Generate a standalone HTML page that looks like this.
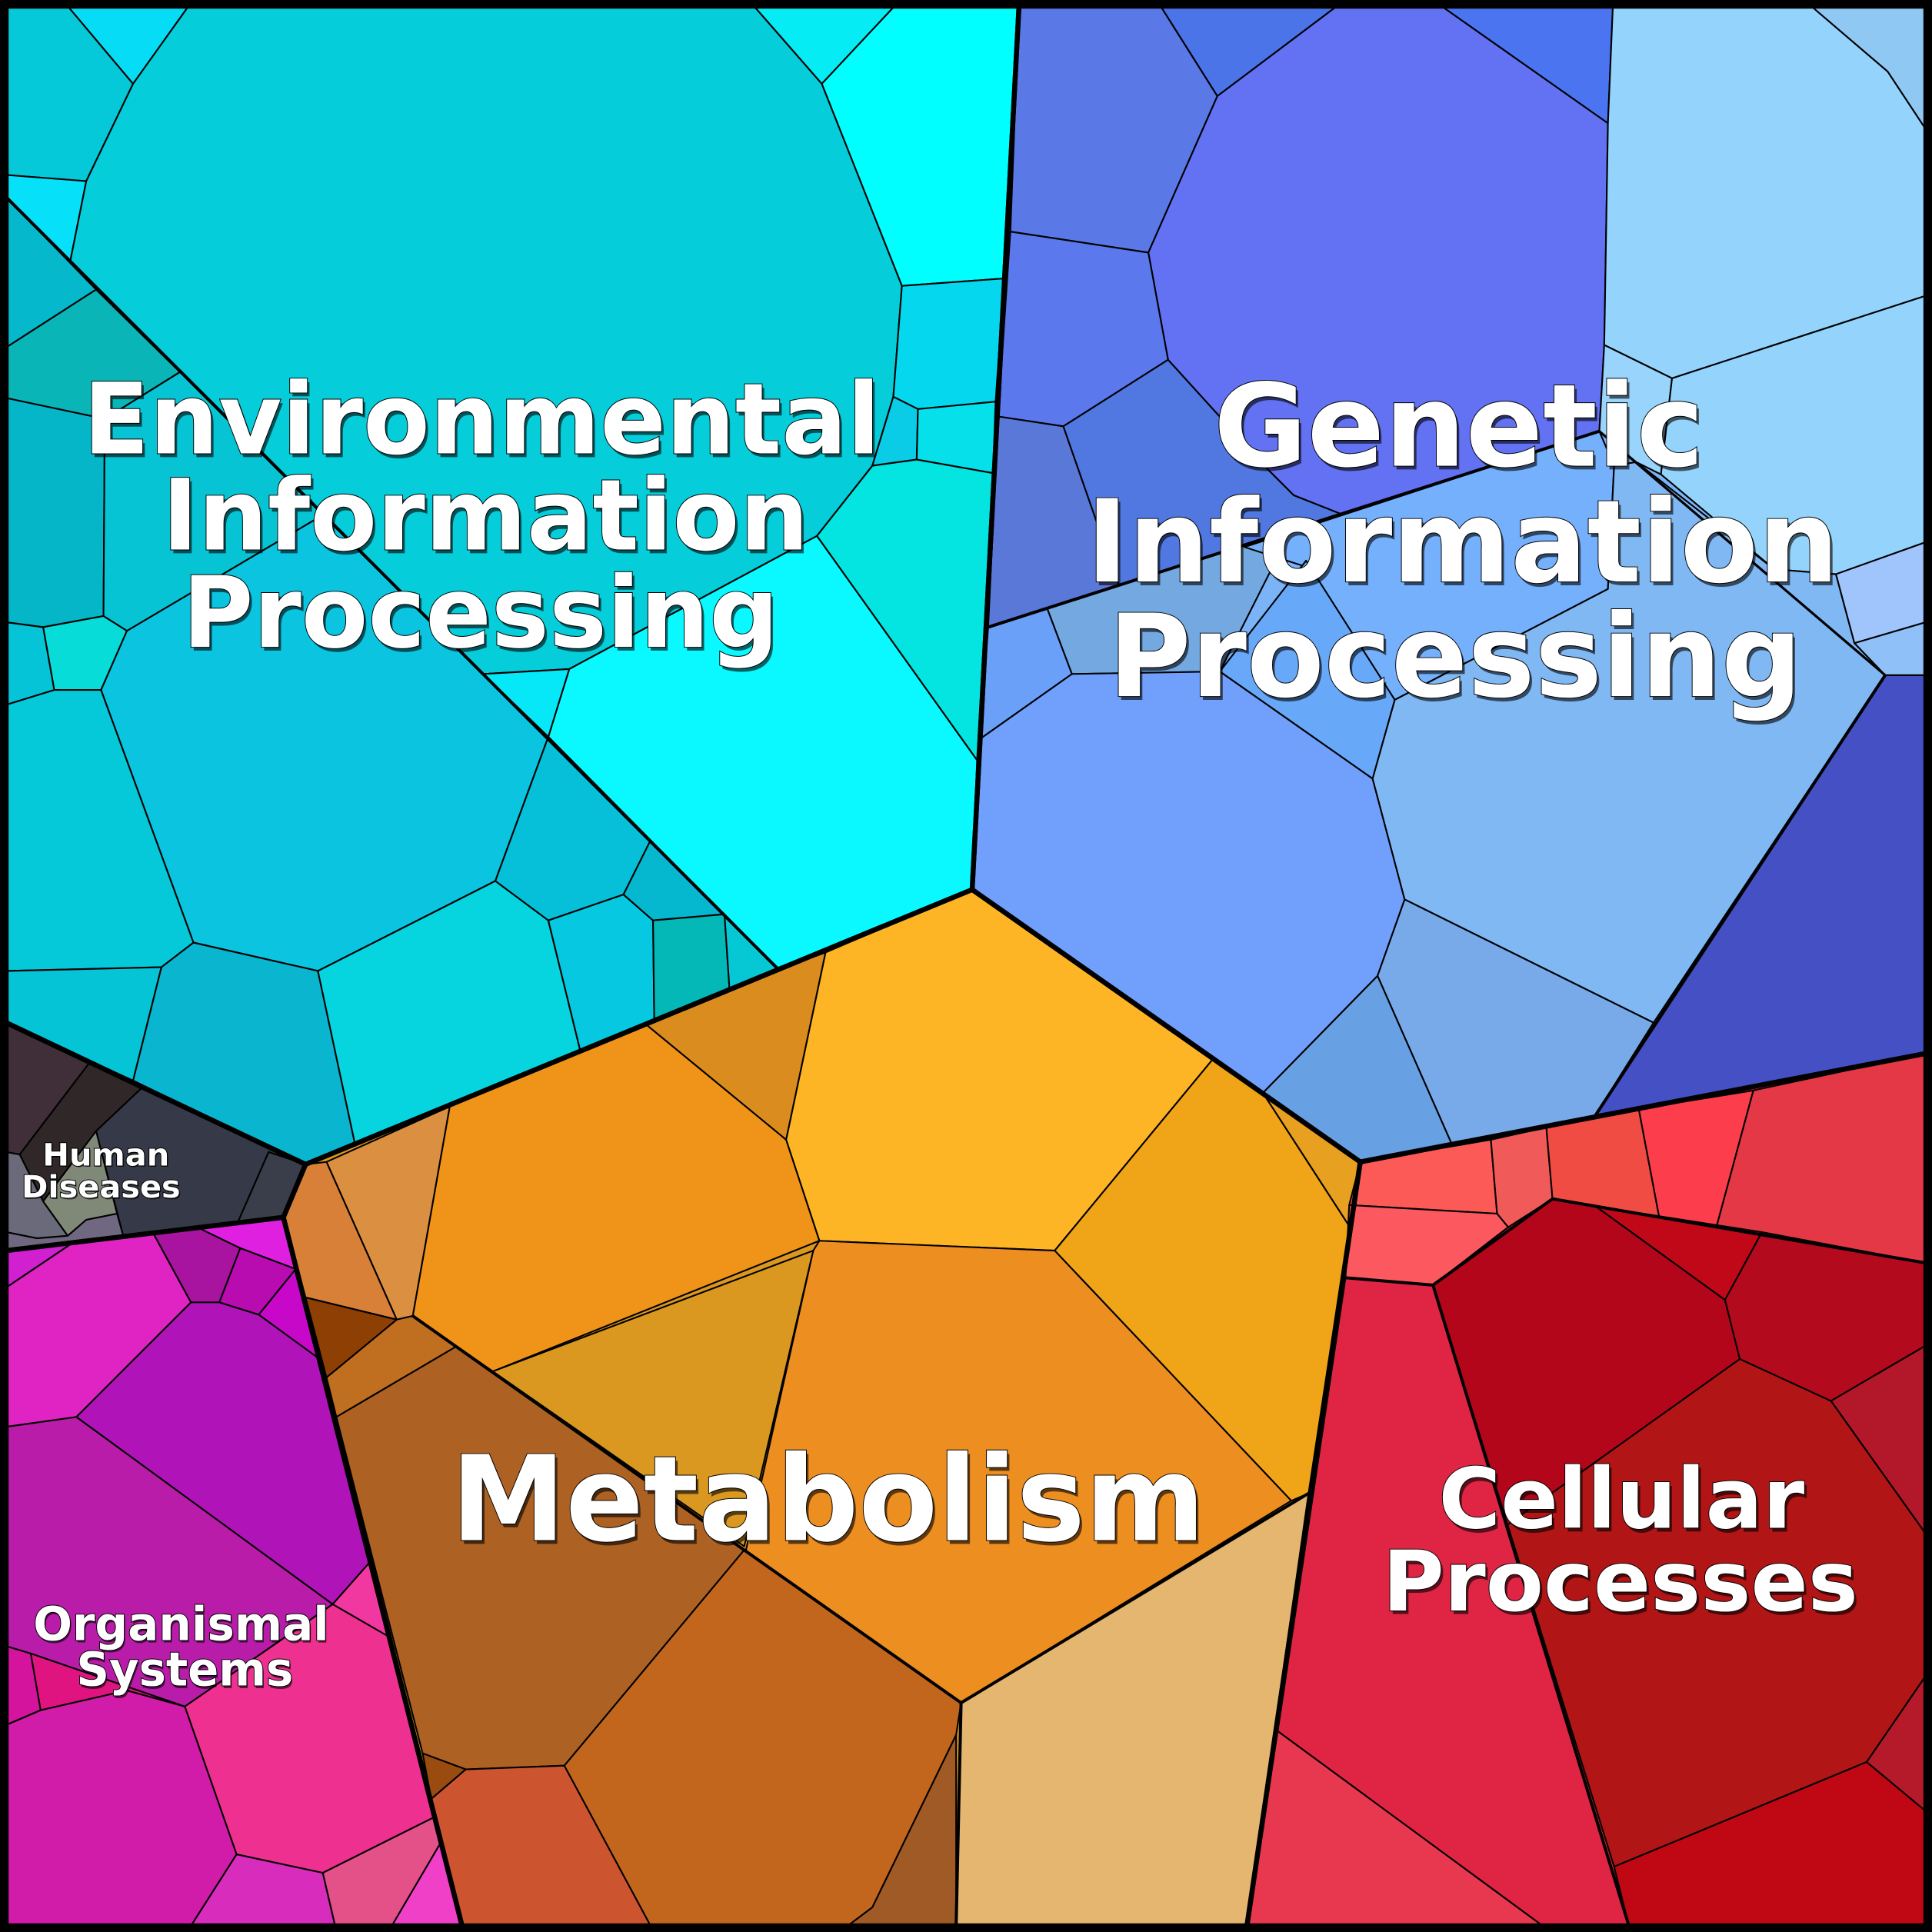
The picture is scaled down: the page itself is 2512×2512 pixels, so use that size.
<!DOCTYPE html>
<html><head><meta charset="utf-8"><style>
html,body{margin:0;padding:0;background:#000;}
svg{display:block}
.s polygon{stroke:#000;stroke-width:1.3;stroke-linejoin:round}
.m polygon{fill:none;stroke:#000;stroke-width:4;stroke-linejoin:round}
text{font-family:"DejaVu Sans","Liberation Sans",sans-serif;font-weight:bold;fill:#fff;stroke:#000;stroke-width:1.2;paint-order:stroke;text-anchor:middle}
.sh{fill:#000;stroke:none;opacity:0.6}
</style></head><body>
<svg width="2512" height="2512" viewBox="0 0 1568 1568" xmlns="http://www.w3.org/2000/svg">
<rect x="0" y="0" width="1568" height="1568" fill="#000"/>
<g>
<polygon fill="#05cdd9" points="5,5 827,5 789,722 248,945 5,830"/>
<polygon fill="#7ab4f6" points="827,5 1563,5 1563,855 1104,943 789,722"/>
<polygon fill="#db9820" points="789,722 1104,943 1012,1563 375,1563 230,988 248,945"/>
<polygon fill="#e02444" points="1104,943 1563,855 1563,1563 1012,1563"/>
<polygon fill="#3a3a48" points="5,830 248,945 230,988 5,1015"/>
<polygon fill="#b81ca8" points="5,1015 230,988 375,1563 5,1563"/>
</g>
<g class="s">
<!-- Environmental -->
<polygon fill="#05c8d8" points="5,5 55,5 108,68 70,147 5,142"/>
<polygon fill="#06dcf5" points="55,5 153,5 108,68"/>
<polygon fill="#06e0f8" points="5,142 70,147 57,212 5,160"/>
<polygon fill="#05cdd9" points="57,212 70,147 108,68 153,5 612,5 667,68 732,232 725,322 708,378 663,435 462,543 392,547 78,233"/>
<polygon fill="#05ecf5" points="612,5 726,5 667,68"/>
<polygon fill="#00ffff" points="726,5 827,5 815,226 732,232 667,68"/>
<polygon fill="#05d8ee" points="732,232 815,226 808,326 745,332 725,322"/>
<polygon fill="#0acce6" points="725,322 745,332 744,373 708,378"/>
<polygon fill="#05e0ea" points="745,332 808,326 806,384 744,373"/>
<polygon fill="#04e4e0" points="708,378 744,373 806,384 793,617 663,435"/>
<polygon fill="#0af8ff" points="663,435 793,617 789,722 632,787 445,598 462,543"/>
<polygon fill="#06e8f8" points="392,547 462,543 445,598"/>
<polygon fill="#05b8cc" points="5,160 78,235 5,282"/>
<polygon fill="#0ab5b8" points="5,282 78,235 146,302 85,340 5,323"/>
<polygon fill="#05b5c8" points="5,323 85,340 84,500 35,509 5,505"/>
<polygon fill="#06c4d4" points="85,340 146,302 262,418 103,512 84,500"/>
<polygon fill="#08dcd8" points="35,509 84,500 103,512 82,560 44,560"/>
<polygon fill="#06c4d8" points="5,505 35,509 44,560 5,572"/>
<polygon fill="#0ac4e0" points="103,512 262,418 392,547 445,598 402,715 258,788 157,765 82,560"/>
<polygon fill="#05c8d8" points="5,572 44,560 82,560 157,765 131,785 5,788"/>
<polygon fill="#05c4d5" points="5,788 131,785 108,877 5,830"/>
<polygon fill="#0ab5cf" points="131,785 157,765 258,788 288,928 248,945 108,877"/>
<polygon fill="#06d5e0" points="258,788 402,715 445,747 471,853 288,928"/>
<polygon fill="#05c0d8" points="402,715 445,598 528,682 506,726 445,747"/>
<polygon fill="#06c8e0" points="445,747 506,726 530,747 531,828 471,853"/>
<polygon fill="#05b8d0" points="528,682 588,742 530,747 506,726"/>
<polygon fill="#05b8b8" points="530,747 588,742 592,802 531,828"/>
<polygon fill="#06c8d5" points="588,742 632,787 592,802"/>
<!-- Genetic -->
<polygon fill="#5a78e6" points="827,5 942,5 988,78 932,205 820,188"/>
<polygon fill="#4a74e8" points="942,5 1085,5 988,78"/>
<polygon fill="#6272f2" points="932,205 988,78 1085,5 1170,5 1305,100 1302,280 1298,350 1088,417 1050,402 1028,380 948,292"/>
<polygon fill="#4a74f0" points="1170,5 1309,5 1305,100"/>
<polygon fill="#5b78ec" points="820,188 932,205 948,292 863,346 810,338"/>
<polygon fill="#5a78d8" points="810,338 863,346 908,475 802,509"/>
<polygon fill="#5078e0" points="863,346 948,292 1028,380 1050,402 1088,417 908,475"/>
<polygon fill="#94d4fc" points="1309,5 1470,5 1532,58 1563,105 1563,240 1357,307 1302,280 1305,100"/>
<polygon fill="#90c8f4" points="1470,5 1563,5 1563,105 1532,58"/>
<polygon fill="#98d4fc" points="1302,280 1357,307 1348,385 1328,375 1298,350"/>
<polygon fill="#94d4fc" points="1357,307 1563,240 1563,440 1490,466 1440,462 1348,385"/>
<polygon fill="#a0c4fc" points="1490,466 1563,440 1563,505 1505,522"/>
<polygon fill="#90c0f8" points="1505,522 1563,505 1563,548 1530,548"/>
<polygon fill="#6aa0f8" points="802,509 850,494 870,547 795,600"/>
<polygon fill="#74a8e0" points="850,494 1048,430 990,545 870,547"/>
<polygon fill="#74b0fc" points="1010,444 1298,350 1310,378 1305,478 1132,568 1060,460"/>
<polygon fill="#68a8f8" points="990,545 1060,455 1132,568 1114,632"/>
<polygon fill="#70a0fc" points="795,600 870,547 990,545 1114,632 1140,730 1118,792 1025,887 789,722"/>
<polygon fill="#80b8f4" points="1305,478 1310,378 1328,375 1440,462 1490,466 1505,522 1530,548 1342,830 1140,730 1114,632 1132,568"/>
<polygon fill="#78aaea" points="1118,792 1140,730 1342,830 1293,908 1178,928"/>
<polygon fill="#68a0e4" points="1025,887 1118,792 1178,928 1104,943"/>
<polygon fill="#4450c4" points="1530,548 1563,548 1563,855 1293,908"/>
<!-- Metabolism -->
<polygon fill="#fdb526" points="789,722 984,860 856,1015 665,1007 638,925 670,773"/>
<polygon fill="#da8c1e" points="632,787 670,773 638,925 525,832"/>
<polygon fill="#ef9418" points="365,898 525,832 638,925 665,1007 400,1113 335,1068"/>
<polygon fill="#da9040" points="265,943 365,898 335,1068 322,1071"/>
<polygon fill="#d88038" points="248,945 265,943 322,1071 248,1053 230,988"/>
<polygon fill="#8e4004" points="248,1053 322,1071 265,1118"/>
<polygon fill="#c06e20" points="265,1118 322,1071 335,1068 370,1093 273,1150"/>
<polygon fill="#f0a418" points="984,860 1025,887 1095,995 1062,1212 1048,1218 856,1015"/>
<polygon fill="#e8a020" points="1025,887 1104,943 1095,995"/>
<polygon fill="#ed8e20" points="665,1007 856,1015 1048,1218 780,1382 605,1260 660,1015"/>
<polygon fill="#db9820" points="400,1113 660,1015 604,1255"/>
<polygon fill="#ad6224" points="273,1150 370,1093 604,1258 458,1433 378,1436 343,1423"/>
<polygon fill="#c2661e" points="604,1258 780,1382 776,1408 708,1548 688,1563 528,1563 458,1433"/>
<polygon fill="#e4b670" points="780,1382 1062,1212 1012,1563 776,1563"/>
<polygon fill="#a05a26" points="776,1408 776,1563 688,1563 708,1548"/>
<polygon fill="#9a4c10" points="343,1423 378,1436 350,1460"/>
<polygon fill="#cc5530" points="350,1460 378,1436 458,1433 528,1563 375,1563"/>
<!-- Cellular -->
<polygon fill="#fc5a57" points="1104,943 1210,925 1215,985 1095,978"/>
<polygon fill="#f05a58" points="1210,925 1255,915 1260,973 1224,996 1215,985"/>
<polygon fill="#f04c44" points="1255,915 1330,900 1347,990 1260,973"/>
<polygon fill="#fc3e4c" points="1330,900 1423,885 1393,996 1347,990"/>
<polygon fill="#e43846" points="1423,885 1563,855 1563,1025 1393,996"/>
<polygon fill="#fc5860" points="1095,978 1215,985 1224,996 1163,1043 1092,1037"/>
<polygon fill="#b4061a" points="1163,1043 1260,973 1295,979 1400,1055 1412,1103 1220,1240"/>
<polygon fill="#c00818" points="1295,979 1430,1000 1400,1055"/>
<polygon fill="#b40a1e" points="1430,1000 1563,1025 1563,1092 1486,1137 1412,1103 1400,1055"/>
<polygon fill="#b2182a" points="1486,1137 1563,1092 1563,1245"/>
<polygon fill="#b21516" points="1220,1240 1412,1103 1486,1137 1563,1245 1563,1360 1515,1430 1310,1515"/>
<polygon fill="#e02444" points="1092,1037 1163,1043 1310,1515 1322,1563 1252,1563 1037,1405"/>
<polygon fill="#e83850" points="1037,1405 1252,1563 1012,1563"/>
<polygon fill="#c00814" points="1310,1515 1515,1430 1563,1470 1563,1563 1322,1563"/>
<polygon fill="#b41a2a" points="1515,1430 1563,1360 1563,1470"/>
<!-- Human diseases -->
<polygon fill="#402e38" points="5,830 73,862 16,937 5,935"/>
<polygon fill="#302828" points="73,862 115,883 78,918 35,975 16,937"/>
<polygon fill="#363a48" points="115,883 248,945 218,935 193,992 100,1003 78,918"/>
<polygon fill="#3a3e4a" points="218,935 248,945 230,988 193,992"/>
<polygon fill="#6a6a7a" points="16,937 35,975 55,1003 30,1005 5,1000 5,935"/>
<polygon fill="#808878" points="35,975 78,918 95,985 70,990 55,1003"/>
<polygon fill="#706880" points="55,1003 70,990 95,985 100,1003 5,1015 5,1000 30,1005"/>
<!-- Organismal -->
<polygon fill="#d020d0" points="5,1015 60,1008 5,1045"/>
<polygon fill="#e024c4" points="5,1045 60,1008 125,1002 155,1057 62,1150 5,1158"/>
<polygon fill="#a814a0" points="125,1002 162,997 195,1013 178,1057 155,1057"/>
<polygon fill="#e020e0" points="162,997 230,988 240,1030 195,1013"/>
<polygon fill="#b80cb0" points="195,1013 240,1030 210,1067 178,1057"/>
<polygon fill="#c808c8" points="210,1067 240,1030 258,1102"/>
<polygon fill="#b014b8" points="62,1150 155,1057 178,1057 210,1067 258,1102 300,1268 270,1302"/>
<polygon fill="#b81ca8" points="5,1158 62,1150 270,1302 150,1385 25,1342 5,1336"/>
<polygon fill="#f038a0" points="270,1302 300,1268 315,1328"/>
<polygon fill="#ee3090" points="150,1385 270,1302 315,1328 352,1475 262,1520 192,1505"/>
<polygon fill="#d4149c" points="5,1336 25,1342 33,1388 5,1400"/>
<polygon fill="#e01480" points="25,1342 150,1385 103,1372 33,1388"/>
<polygon fill="#d01ca8" points="5,1400 33,1388 103,1372 150,1385 192,1505 155,1563 5,1563"/>
<polygon fill="#d82cbc" points="192,1505 262,1520 272,1563 155,1563"/>
<polygon fill="#e45088" points="262,1520 352,1475 358,1495 318,1563 272,1563"/>
<polygon fill="#f040c8" points="358,1495 375,1563 318,1563"/>
</g>
<g class="m">
<polygon points="5,5 827,5 789,722 248,945 5,830"/>
<polygon points="827,5 1563,5 1563,855 1104,943 789,722"/>
<polygon points="789,722 1104,943 1012,1563 375,1563 230,988 248,945"/>
<polygon points="1104,943 1563,855 1563,1563 1012,1563"/>
<polygon points="5,830 248,945 230,988 5,1015"/>
<polygon points="5,1015 230,988 375,1563 5,1563"/>
<line x1="802" y1="509" x2="1298" y2="350" stroke="#000" stroke-width="2.5"/>
<line x1="1298" y1="350" x2="1530" y2="548" stroke="#000" stroke-width="2"/>
<line x1="5" y1="160" x2="632" y2="787" stroke="#000" stroke-width="2.5"/>
<line x1="1530" y1="548" x2="1293" y2="908" stroke="#000" stroke-width="2.5"/>
<line x1="1163" y1="1043" x2="1322" y2="1563" stroke="#000" stroke-width="2.5"/>
<line x1="1092" y1="1037" x2="1163" y2="1043" stroke="#000" stroke-width="2.5"/>
<line x1="1163" y1="1043" x2="1260" y2="973" stroke="#000" stroke-width="2.5"/>
<line x1="1260" y1="973" x2="1563" y2="1025" stroke="#000" stroke-width="2.5"/>
<line x1="335" y1="1068" x2="604" y2="1258" stroke="#000" stroke-width="2.5"/>
<line x1="604" y1="1258" x2="780" y2="1382" stroke="#000" stroke-width="2.5"/>
<line x1="780" y1="1382" x2="1062" y2="1212" stroke="#000" stroke-width="2.5"/>
<line x1="780" y1="1382" x2="776" y2="1563" stroke="#000" stroke-width="2.5"/>
</g>
<rect x="3" y="3" width="1562" height="1562" fill="none" stroke="#000" stroke-width="7"/>
<g>
<text class="sh" x="393" y="371" font-size="80" textLength="647" lengthAdjust="spacingAndGlyphs">Environmental</text>
<text x="391" y="368" font-size="80" textLength="647" lengthAdjust="spacingAndGlyphs">Environmental</text>
<text class="sh" x="396" y="449" font-size="80" textLength="525" lengthAdjust="spacingAndGlyphs">Information</text>
<text x="394" y="446" font-size="80" textLength="525" lengthAdjust="spacingAndGlyphs">Information</text>
<text class="sh" x="392" y="528" font-size="80" textLength="484" lengthAdjust="spacingAndGlyphs">Processing</text>
<text x="390" y="525" font-size="80" textLength="484" lengthAdjust="spacingAndGlyphs">Processing</text>

<text class="sh" x="1186" y="381" font-size="93" textLength="398" lengthAdjust="spacingAndGlyphs">Genetic</text>
<text x="1184" y="378" font-size="93" textLength="398" lengthAdjust="spacingAndGlyphs">Genetic</text>
<text class="sh" x="1189" y="475" font-size="93" textLength="611" lengthAdjust="spacingAndGlyphs">Information</text>
<text x="1187" y="472" font-size="93" textLength="611" lengthAdjust="spacingAndGlyphs">Information</text>
<text class="sh" x="1183" y="568" font-size="93" textLength="563" lengthAdjust="spacingAndGlyphs">Processing</text>
<text x="1181" y="565" font-size="93" textLength="563" lengthAdjust="spacingAndGlyphs">Processing</text>

<text class="sh" x="674" y="1253" font-size="96" textLength="612" lengthAdjust="spacingAndGlyphs">Metabolism</text>
<text x="672" y="1250" font-size="96" textLength="612" lengthAdjust="spacingAndGlyphs">Metabolism</text>

<text class="sh" x="1318" y="1243" font-size="68" textLength="297" lengthAdjust="spacingAndGlyphs">Cellular</text>
<text x="1316" y="1240" font-size="68" textLength="297" lengthAdjust="spacingAndGlyphs">Cellular</text>
<text class="sh" x="1317" y="1310" font-size="68" textLength="386" lengthAdjust="spacingAndGlyphs">Processes</text>
<text x="1315" y="1307" font-size="68" textLength="386" lengthAdjust="spacingAndGlyphs">Processes</text>

<text class="sh" x="148" y="1333" font-size="38" textLength="240" lengthAdjust="spacingAndGlyphs">Organismal</text>
<text x="147" y="1331" font-size="38" textLength="240" lengthAdjust="spacingAndGlyphs">Organismal</text>
<text class="sh" x="151" y="1370" font-size="38" textLength="176" lengthAdjust="spacingAndGlyphs">Systems</text>
<text x="150" y="1368" font-size="38" textLength="176" lengthAdjust="spacingAndGlyphs">Systems</text>

<text class="sh" x="87" y="947" font-size="25" textLength="103" lengthAdjust="spacingAndGlyphs">Human</text>
<text x="86" y="946" font-size="25" textLength="103" lengthAdjust="spacingAndGlyphs">Human</text>
<text class="sh" x="83" y="973" font-size="25" textLength="129" lengthAdjust="spacingAndGlyphs">Diseases</text>
<text x="82" y="972" font-size="25" textLength="129" lengthAdjust="spacingAndGlyphs">Diseases</text>
</g>
</svg>
</body></html>
